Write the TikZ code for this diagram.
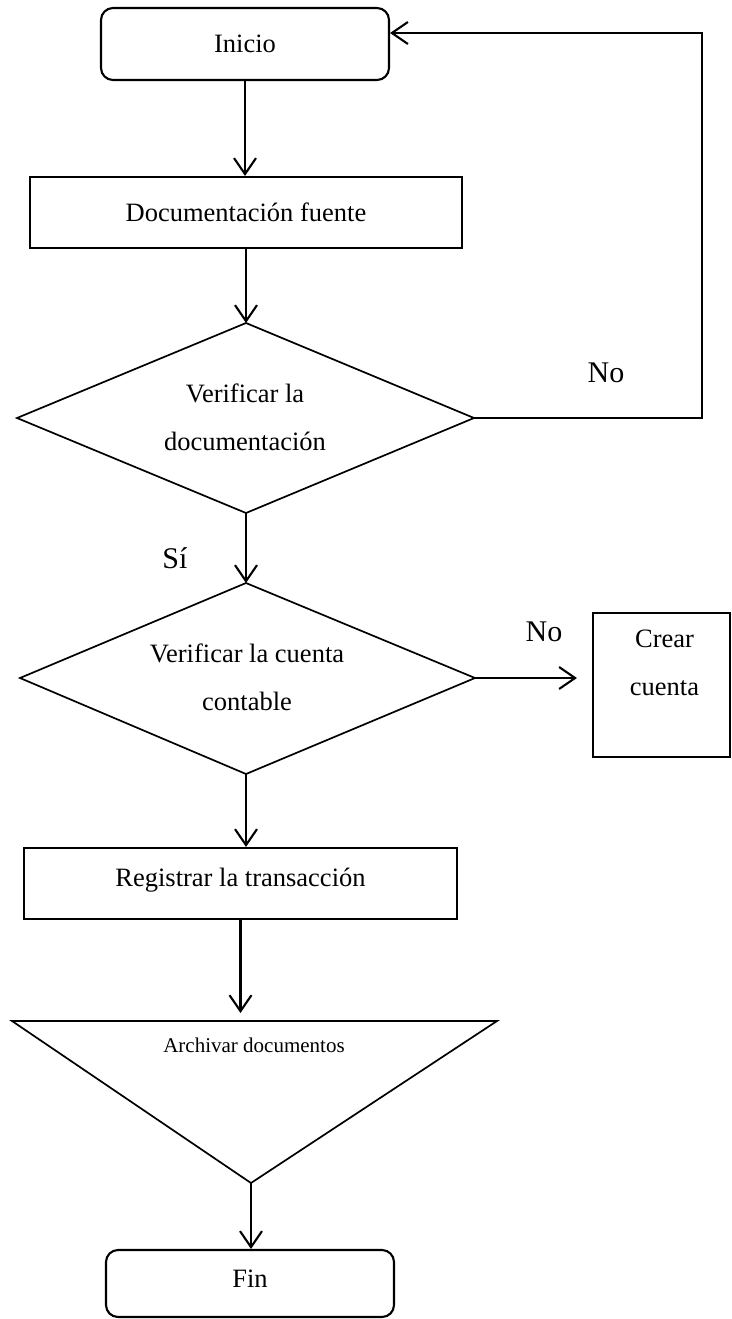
\documentclass[tikz,border=0pt]{standalone}
\usepackage{fontspec}
\setmainfont{Liberation Serif}
\usetikzlibrary{arrows.meta,calc}
\begin{document}
\begin{tikzpicture}[x=1pt,y=-1pt,
  lw/.style={line width=2.1pt},
  txt/.style={font=\fontsize{26.5}{48}\selectfont},
  lbl/.style={font=\fontsize{30}{36}\selectfont},
  term/.style={lw,draw,rounded corners=12pt,txt},
  procbox/.style={lw,draw,rectangle,txt},
  outline/.style={line width=1.7pt},
  conn/.style={lw,-{Straight Barb[length=16pt,width=22pt]}}]
\useasboundingbox (0,0) rectangle (731,1319);
% terminals and boxes
\node[term,minimum width=288,minimum height=72] (ini) at (245,44) {Inicio};
\node[procbox,minimum width=432,minimum height=71] (doc) at (246,212.5) {Documentación fuente};
% decision 1
\coordinate (d1n) at (246,323);
\coordinate (d1w) at (17,418);
\coordinate (d1e) at (474,418);
\coordinate (d1s) at (246,513);
\draw[outline] (d1n) -- (d1e) -- (d1s) -- (d1w) -- cycle;
\node[txt,align=center] (d1) at (245,417) {Verificar la\\documentación};
% decision 2
\coordinate (d2n) at (246,583);
\coordinate (d2w) at (20,678);
\coordinate (d2e) at (475,678);
\coordinate (d2s) at (246,774);
\draw[outline] (d2n) -- (d2e) -- (d2s) -- (d2w) -- cycle;
\node[txt,align=center] (d2) at (247,677) {Verificar la cuenta\\contable};
\node[procbox,minimum width=137,minimum height=144,
  label={[txt,anchor=north,align=center,yshift=-14pt,xshift=3pt]north:Crear\\cuenta}] (crear) at (661.5,685) {};
\node[procbox,minimum width=433,minimum height=71,text depth=12pt] (reg) at (240.5,883.5) {Registrar la transacción};
% archive triangle
\coordinate (tl) at (12,1021);
\coordinate (tr) at (497,1021);
\coordinate (tb) at (251,1183);
\coordinate (tt) at (243,1021);
\draw[outline] (tl) -- (tr) -- (tb) -- cycle;
\node[font=\fontsize{21}{25}\selectfont] (arch) at (254,1045) {Archivar documentos};
\node[term,minimum width=288,minimum height=67,text depth=10pt] (fin) at (250,1283.5) {Fin};
% connectors
\coordinate (rc) at (702,418);
\draw[conn] (ini.south) -- (ini.south |- doc.north);
\draw[conn] (d1n |- doc.south) -- (d1n);
\draw[conn] (d1s) -- (d2n);
\draw[conn] (d1e) -- (rc) |- ([yshift=11pt]ini.east);
\draw[conn,shorten >=15pt] (d2e) -- (d2e -| crear.west);
\draw[conn] (d2s) -- (d2s |- reg.north);
\draw[conn,shorten >=8pt] (reg.south) -- (reg.south |- tt);
\draw[conn] (tb) -- (tb |- fin.north);
\node[lbl] (no1) at (606,373) {No};
\node[lbl] (si) at (175,558) {Sí};
\node[lbl] (no2) at (544,632) {No};
\end{tikzpicture}
\end{document}
